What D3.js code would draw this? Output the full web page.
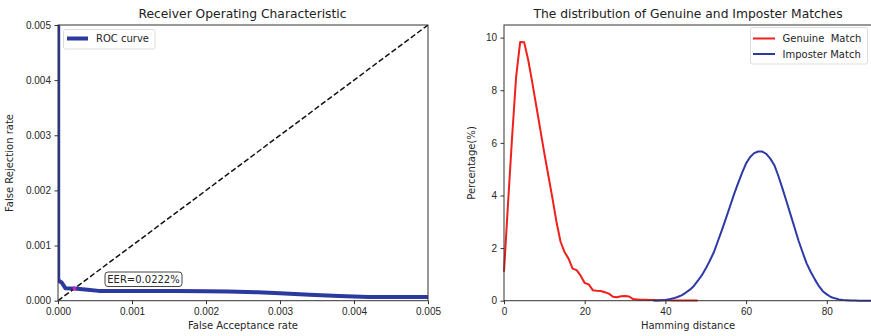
<!DOCTYPE html>
<meta charset="utf-8">
<style>
body { margin: 0; background: #fff; }
svg { font-family: "DejaVu Sans", sans-serif; }
.tick text { font-size: 10px; fill: #262626; }
.tick line { stroke: #333; }
.title { font-size: 12.3px; fill: #222; }
.label { font-size: 10px; fill: #262626; }
.legend text { font-size: 10px; fill: #262626; white-space: pre; }
</style>
<svg width="871" height="336"></svg>
<script src="https://cdn.jsdelivr.net/npm/d3@7"></script>
<script>

// ROC curve (False Acceptance rate, False Rejection rate)
var rocFar = [0.000003, 0.000003, 0.00001, 0.00005, 0.0001, 0.000222, 0.0004, 0.00055, 0.0008, 0.0012, 0.0016, 0.002, 0.0023, 0.0027, 0.003, 0.0034, 0.0038, 0.0042, 0.0046, 0.0052];
var rocFrr = [0.0056, 0.0004, 0.00036, 0.00033, 0.000228, 0.000222, 0.0002, 0.000178, 0.000174, 0.000174, 0.000174, 0.000172, 0.000166, 0.000152, 0.000135, 0.00011, 0.000085, 0.000068, 0.000066, 0.000066];
var eer = 0.000222;
var rocXTicks = [0, 0.001, 0.002, 0.003, 0.004, 0.005];
var rocYTicks = [0, 0.001, 0.002, 0.003, 0.004, 0.005];

// Hamming distance distributions (percent)
var genuineX = d3.range(0, 49);
var genuineY = [1.1, 3.7, 6.2, 8.5, 9.83, 9.82, 9.15, 8.3, 7.4, 6.5, 5.6, 4.75, 3.9, 3.0, 2.25, 1.85, 1.6, 1.22, 1.16, 0.95,
  0.67, 0.62, 0.4, 0.38, 0.37, 0.32, 0.27, 0.15, 0.13, 0.17, 0.18, 0.16, 0.06, 0.05, 0.04, 0.04, 0.03, 0.03, 0.02, 0.02,
  0.02, 0.02, 0.01, 0.01, 0.01, 0.01, 0.01, 0.01, 0.01];
var imposterX = d3.range(37, 92);
var imposterY = [0.005, 0.01, 0.02, 0.03, 0.06, 0.09, 0.14, 0.2, 0.3, 0.41, 0.55, 0.75, 0.96, 1.22, 1.52, 1.84, 2.26, 2.68,
  3.13, 3.58, 4.04, 4.46, 4.86, 5.22, 5.46, 5.61, 5.67, 5.67, 5.58, 5.4, 5.15, 4.74, 4.27, 3.78, 3.28, 2.78, 2.28, 1.84,
  1.42, 1.1, 0.82, 0.56, 0.36, 0.24, 0.14, 0.09, 0.05, 0.03, 0.02, 0.01, 0.005, 0, 0, 0, 0];
var distXTicks = [0, 20, 40, 60, 80];
var distYTicks = [0, 2, 4, 6, 8, 10];

var svg = d3.select("svg");

function frame(g, x, y, xTicks, yTicks, fmt) {
  g.append("g")
    .attr("transform", "translate(0," + y.range()[0] + ")")
    .call(d3.axisBottom(x).tickValues(xTicks).tickFormat(fmt).tickSize(3.5).tickPadding(3.5))
    .call(function(a) { a.select(".domain").remove(); });
  g.append("g")
    .attr("transform", "translate(" + x.range()[0] + ",0)")
    .call(d3.axisLeft(y).tickValues(yTicks).tickFormat(fmt).tickSize(3.5).tickPadding(3.5))
    .call(function(a) { a.select(".domain").remove(); });
}

function box(g, x, y) {
  g.append("rect")
    .attr("x", x.range()[0]).attr("y", y.range()[1])
    .attr("width", x.range()[1] - x.range()[0])
    .attr("height", y.range()[0] - y.range()[1])
    .attr("fill", "none").attr("stroke", "#333").attr("stroke-width", 1);
}

// ---- left: ROC ----
var xRoc = d3.scaleLinear().domain([0, 0.005]).range([58, 428]);
var yRoc = d3.scaleLinear().domain([0, 0.005]).range([300.7, 25]);
var left = svg.append("g");

left.append("clipPath").attr("id", "clipRoc")
  .append("rect").attr("x", 58).attr("y", 25).attr("width", 370).attr("height", 275.7);

var plotL = left.append("g").attr("clip-path", "url(#clipRoc)");
plotL.append("path")
  .datum(rocFar.map(function(d, i) { return [d, rocFrr[i]]; }))
  .attr("d", d3.line().x(function(d) { return xRoc(d[0]); }).y(function(d) { return yRoc(d[1]); }))
  .attr("fill", "none").attr("stroke", "#2b3a9e").attr("stroke-width", 4)
  .attr("stroke-linejoin", "round");
plotL.append("line")
  .attr("x1", xRoc(0)).attr("y1", yRoc(0)).attr("x2", xRoc(0.005)).attr("y2", yRoc(0.005))
  .attr("stroke", "#111").attr("stroke-width", 1.5).attr("stroke-dasharray", "5.5,2.5");
plotL.append("circle")
  .attr("cx", xRoc(eer)).attr("cy", yRoc(eer)).attr("r", 2)
  .attr("fill", "#d020c0");

frame(left, xRoc, yRoc, rocXTicks, rocYTicks, d3.format(".3f"));
box(left, xRoc, yRoc);

// EER annotation
left.append("rect")
  .attr("x", 105).attr("y", 272).attr("width", 77).attr("height", 14.5)
  .attr("rx", 3).attr("fill", "#fff").attr("stroke", "#444").attr("stroke-width", 1);
left.append("text").attr("class", "label")
  .attr("x", 143.5).attr("y", 283).attr("text-anchor", "middle")
  .text("EER=" + (eer * 100).toFixed(4) + "%");

// legend
var legL = left.append("g").attr("class", "legend");
legL.append("rect").attr("x", 63.5).attr("y", 29.5).attr("width", 91.5).attr("height", 19.5)
  .attr("rx", 2).attr("fill", "#fff").attr("stroke", "#ddd");
legL.append("line").attr("x1", 67).attr("x2", 88).attr("y1", 38.5).attr("y2", 38.5)
  .attr("stroke", "#2b3a9e").attr("stroke-width", 4);
legL.append("text").attr("x", 96).attr("y", 42.2).text("ROC curve");

left.append("text").attr("class", "title").attr("x", 242.5).attr("y", 17.5).attr("text-anchor", "middle")
  .text("Receiver Operating Characteristic");
left.append("text").attr("class", "label").attr("x", 243).attr("y", 329).attr("text-anchor", "middle")
  .text("False Acceptance rate");
left.append("text").attr("class", "label").attr("text-anchor", "middle")
  .attr("transform", "translate(13,163) rotate(-90)")
  .text("False Rejection rate");

// ---- right: distributions ----
var xDist = d3.scaleLinear().domain([0, 91.2]).range([504, 872]);
var yDist = d3.scaleLinear().domain([0, 10.48]).range([300.7, 25]);
var right = svg.append("g");

var line = d3.line().x(function(d) { return xDist(d[0]); }).y(function(d) { return yDist(d[1]); });
right.append("path")
  .datum(genuineX.map(function(d, i) { return [d, genuineY[i]]; }))
  .attr("d", line).attr("fill", "none").attr("stroke", "#f0201c").attr("stroke-width", 2)
  .attr("stroke-linejoin", "round");
right.append("path")
  .datum(imposterX.map(function(d, i) { return [d, imposterY[i]]; }))
  .attr("d", line).attr("fill", "none").attr("stroke", "#2c3aa8").attr("stroke-width", 2)
  .attr("stroke-linejoin", "round");

frame(right, xDist, yDist, distXTicks, distYTicks, d3.format("d"));
box(right, xDist, yDist);

var legR = right.append("g").attr("class", "legend");
legR.append("rect").attr("x", 750.5).attr("y", 27.5).attr("width", 117).attr("height", 36.5)
  .attr("rx", 2).attr("fill", "#fff").attr("stroke", "#ddd");
legR.append("line").attr("x1", 753).attr("x2", 775).attr("y1", 38.5).attr("y2", 38.5)
  .attr("stroke", "#f0201c").attr("stroke-width", 2);
legR.append("text").attr("x", 782.5).attr("y", 42.2).attr("xml:space", "preserve").text("Genuine  Match");
legR.append("line").attr("x1", 753).attr("x2", 775).attr("y1", 54).attr("y2", 54)
  .attr("stroke", "#2c3aa8").attr("stroke-width", 2);
legR.append("text").attr("x", 782.5).attr("y", 57.7).text("Imposter Match");

right.append("text").attr("class", "title").attr("x", 688).attr("y", 17.5).attr("text-anchor", "middle")
  .text("The distribution of Genuine and Imposter Matches");
right.append("text").attr("class", "label").attr("x", 688).attr("y", 329).attr("text-anchor", "middle")
  .text("Hamming distance");
right.append("text").attr("class", "label").attr("text-anchor", "middle")
  .attr("transform", "translate(475,163) rotate(-90)")
  .text("Percentage(%)");

</script>
